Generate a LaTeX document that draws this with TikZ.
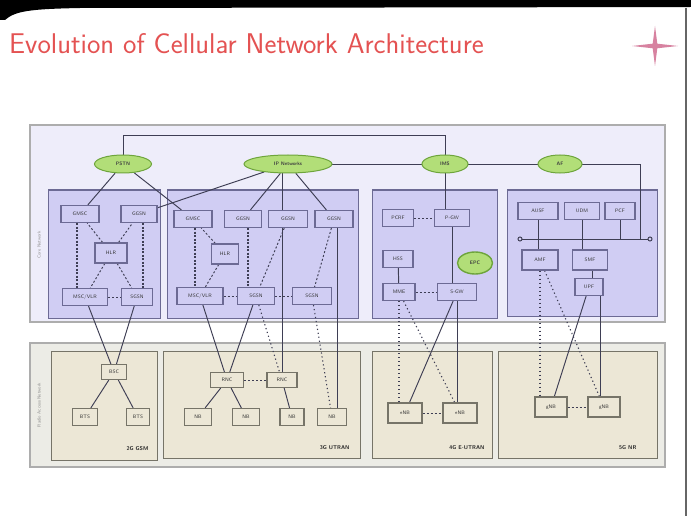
\documentclass[tikz,border=0pt]{standalone}
\usetikzlibrary{shapes.geometric}
\definecolor{corebg}{RGB}{238,237,250}
\definecolor{corefill}{RGB}{208,205,243}
\definecolor{coreline}{RGB}{108,106,148}
\definecolor{ranbg}{RGB}{236,236,230}
\definecolor{ranfill}{RGB}{236,231,214}
\definecolor{ranline}{RGB}{118,116,104}
\definecolor{ellfill}{RGB}{178,222,120}
\definecolor{ellline}{RGB}{110,165,60}
\definecolor{wirec}{RGB}{62,62,84}
\definecolor{titlered}{RGB}{228,82,82}
\definecolor{starpink}{RGB}{215,130,160}
\pgfdeclarelayer{back}
\pgfdeclarelayer{lines}
\pgfsetlayers{back,lines,main}
\tikzset{
  cbox/.style={draw=coreline, line width=1.2pt, fill=corefill, minimum height=17, inner sep=1pt, font=\fontsize{5}{5.5}\selectfont\sffamily, text=black!80},
  rbox/.style={draw=ranline, line width=1.2pt, fill=ranfill, minimum height=17, inner sep=1pt, font=\fontsize{5}{5.5}\selectfont\sffamily, text=black!80},
  ell/.style={ellipse, draw=ellline, line width=1pt, fill=ellfill, minimum height=18, inner sep=1pt, font=\fontsize{5}{5.5}\selectfont\sffamily\bfseries, text=black!75},
  wire/.style={draw=wirec, line width=0.95pt},
  dsh/.style={wire, dash pattern=on 2pt off 2pt},
  dotl/.style={wire, line width=1.1pt, dash pattern=on 1.2pt off 2.8pt},
  ladder/.style={wire, line width=1.5pt, dash pattern=on 2pt off 1.5pt},
  areabg/.style={draw=black!32, line width=1.6pt},
  corearea/.style={draw=coreline, line width=1pt, fill=corefill},
  ranarea/.style={draw=ranline, line width=1pt, fill=ranfill},
  lbl/.style={anchor=south east, font=\fontsize{5.5}{6}\selectfont\sffamily\bfseries, text=black!85},
  side/.style={rotate=90, font=\fontsize{4.5}{5}\selectfont\sffamily, text=black!45}
}
\begin{document}
\begin{tikzpicture}[x=1pt,y=-1pt]
\useasboundingbox (0,0) rectangle (691,516);
\begin{pgfonlayer}{back}
\fill[white] (0,0) rectangle (691,516);
\draw[areabg, fill=corebg] (30,125) rectangle (665,322);
\draw[areabg, fill=ranbg] (30,343) rectangle (665,467);
\draw[corearea] (48,190) rectangle (160,318);
\draw[corearea] (167,190) rectangle (358,318);
\draw[corearea] (372,190) rectangle (497,318);
\draw[corearea] (507,190) rectangle (657,316);
\draw[ranarea] (51,351) rectangle (157,460);
\draw[ranarea] (163,351) rectangle (360,458);
\draw[ranarea] (372,351) rectangle (492,458);
\draw[ranarea] (498,351) rectangle (657,458);
\end{pgfonlayer}
% photo frame
\fill[black] (0,0) -- (691,0) -- (691,7) -- (80,8) .. controls (30,9) and (15,11) .. (5,20) -- (0,20) -- cycle;
\draw[black!60, line width=2pt] (686,8) -- (686,516);
% title and logo
\node[anchor=west, inner sep=0pt, font=\sffamily\fontsize{28.5}{28.5}\selectfont, text=titlered] (title) at (9,44) {Evolution of Cellular Network Architecture};
\fill[starpink] (655,26) -- (657.3,43.7) -- (678,46) -- (657.3,48.3) -- (655,66) -- (652.7,48.3) -- (632,46) -- (652.7,43.7) -- cycle;

\node[side] (sidecore) at (39,245) {Core Network};
\node[side] (sideran) at (39,405) {Radio Access Network};

% external networks
\node[ell, minimum width=57] (pstn) at (123,164) {PSTN};
\node[ell, minimum width=88] (ip) at (288,164) {IP Networks};
\node[ell, minimum width=46] (ims) at (445,164) {IMS};
\node[ell, minimum width=44] (af) at (560,164) {AF};

% 2G core
\node[cbox, minimum width=38] (g2gmsc) at (80,214) {GMSC};
\node[cbox, minimum width=36] (g2ggsn) at (139,214) {GGSN};
\node[cbox, minimum width=32, minimum height=20] (g2hlr) at (111,253) {HLR};
\node[cbox, minimum width=45] (g2msc) at (85,297) {MSC/VLR};
\node[cbox, minimum width=31] (g2sgsn) at (137,297) {SGSN};
% 3G core
\node[cbox, minimum width=38] (g3gmsc) at (193,219) {GMSC};
\node[cbox, minimum width=37] (g3ggsn2) at (243,219) {GGSN};
\node[cbox, minimum width=39] (g3ggsn3) at (288,219) {GGSN};
\node[cbox, minimum width=38] (g3ggsn4) at (334,219) {GGSN};
\node[cbox, minimum width=27, minimum height=20] (g3hlr) at (225,254) {HLR};
\node[cbox, minimum width=46] (g3msc) at (200,296) {MSC/VLR};
\node[cbox, minimum width=37] (g3sgsn2) at (256,296) {SGSN};
\node[cbox, minimum width=39] (g3sgsn3) at (312,296) {SGSN};
% 4G core
\node[cbox, minimum width=31] (g4pcrf) at (398,218) {PCRF};
\node[cbox, minimum width=35] (g4pgw) at (452,218) {P-GW};
\node[cbox, minimum width=30] (g4hss) at (398,259) {HSS};
\node[cbox, minimum width=32] (g4mme) at (399,292) {MME};
\node[cbox, minimum width=39] (g4sgw) at (457,292) {S-GW};
\node[ell, minimum width=35, minimum height=22, line width=1.4pt] (epc) at (475,263) {EPC};
% 5G core
\node[cbox, minimum width=40] (g5ausf) at (538,211) {AUSF};
\node[cbox, minimum width=35] (g5udm) at (582,211) {UDM};
\node[cbox, minimum width=30] (g5pcf) at (620,211) {PCF};
\node[cbox, minimum width=36, minimum height=20] (g5amf) at (540,260) {AMF};
\node[cbox, minimum width=35, minimum height=20] (g5smf) at (590,260) {SMF};
\node[cbox, minimum width=28] (g5upf) at (589,287) {UPF};
\coordinate (busL) at (520,239);
\coordinate (busR) at (650,239);
\coordinate (toprow) at (0,135);
\coordinate (afdrop) at (640,239);

% RAN
\node[rbox, minimum width=25, minimum height=15] (g2bsc) at (114,372) {BSC};
\node[rbox, minimum width=25] (g2bts1) at (85,417) {BTS};
\node[rbox, minimum width=23] (g2bts2) at (138,417) {BTS};
\node[rbox, minimum width=33, minimum height=15] (g3rnc1) at (227,380) {RNC};
\node[rbox, minimum width=30, minimum height=15] (g3rnc2) at (282,380) {RNC};
\node[rbox, minimum width=27] (g3nb1) at (198,417) {NB};
\node[rbox, minimum width=27] (g3nb2) at (246,417) {NB};
\node[rbox, minimum width=24] (g3nb3) at (292,417) {NB};
\node[rbox, minimum width=29] (g3nb4) at (332,417) {NB};
\node[rbox, minimum width=34, minimum height=20] (g4enb1) at (405,413) {eNB};
\node[rbox, minimum width=34, minimum height=20] (g4enb2) at (460,413) {eNB};
\node[rbox, minimum width=32, minimum height=20] (g5gnb1) at (551,407) {gNB};
\node[rbox, minimum width=32, minimum height=20] (g5gnb2) at (604,407) {gNB};

\node[lbl] (l2g) at (152,454) {2G GSM};
\node[lbl] (l3g) at (353,453) {3G UTRAN};
\node[lbl] (l4g) at (488,453) {4G E-UTRAN};
\node[lbl] (l5g) at (640,453) {5G NR};

\begin{pgfonlayer}{lines}
% top-level links
\draw[wire] (pstn.center) -- (pstn.center |- toprow) -| (ims.center);
\draw[wire] (ip.center) -- (ims.center);
\draw[wire] (ims.center) -- (af.center);
\draw[wire] (af.center) -| (afdrop);
\draw[wire] (ims.center) -- (ims.center |- g4pgw.north);
\draw[wire] (pstn) -- (g2gmsc);
\draw[wire] (pstn) -- (g3gmsc);
\draw[wire] (ip) -- (g2ggsn);
\draw[wire] (ip) -- (g3ggsn2);
\draw[wire] (ip) -- (g3ggsn4);
\draw[wire] (ip.center -| g3rnc2.north) -- (g3rnc2.north);
\draw[wire] ([xshift=5]g3nb4.north) -- ([xshift=5]g3nb4.north |- g3ggsn4.center);
% 2G core
\draw[ladder] ([xshift=-3]g2gmsc.south) -- ([xshift=-3]g2gmsc.south |- g2msc.north);
\draw[ladder] ([xshift=4]g2ggsn.south) -- ([xshift=4]g2ggsn.south |- g2sgsn.north);
\draw[dsh] (g2hlr) -- (g2gmsc);
\draw[dsh] (g2hlr) -- (g2ggsn);
\draw[dsh] (g2hlr) -- (g2msc);
\draw[dsh] (g2hlr) -- (g2sgsn);
\draw[dsh] (g2msc) -- (g2sgsn);
% 3G core
\draw[ladder] ([xshift=2]g3gmsc.south) -- ([xshift=2]g3gmsc.south |- g3msc.north);
\draw[ladder] ([xshift=5]g3ggsn2.south) -- ([xshift=5]g3ggsn2.south |- g3sgsn2.north);
\draw[dsh] (g3hlr) -- (g3gmsc);
\draw[dsh] (g3hlr) -- (g3msc);
\draw[dsh] (g3ggsn3) -- (g3sgsn2);
\draw[dsh] (g3ggsn4) -- (g3sgsn3);
\draw[dsh] (g3msc) -- (g3sgsn2);
\draw[dsh] (g3sgsn2) -- (g3sgsn3);
% 4G core
\draw[dsh] (g4pcrf) -- (g4pgw);
\draw[wire] (g4pgw) -- (g4pgw |- g4sgw.north);
\draw[wire] (g4hss) -- (g4mme);
\draw[dsh] (g4mme) -- (g4sgw);
% 5G core
\draw[wire] (busL) -- (busR);
\draw[wire] (g5ausf) -- (g5ausf |- g5amf.north);
\draw[wire] (g5udm) -- (g5udm |- g5smf.north);
\draw[wire] (g5pcf) -- (g5pcf |- busR);
\draw[wire] ([xshift=2]g5smf.south) -- ([xshift=2]g5smf.south |- g5upf.north);
% 2G access
\draw[wire] (g2msc) -- (g2bsc);
\draw[wire] (g2sgsn) -- (g2bsc);
\draw[wire] (g2bsc) -- (g2bts1);
\draw[wire] (g2bsc) -- (g2bts2);
% 3G access
\draw[wire] (g3msc) -- (g3rnc1);
\draw[wire] (g3sgsn2) -- (g3rnc1);
\draw[dotl] (g3sgsn2) -- (g3rnc2);
\draw[dotl] (g3sgsn3) -- (g3nb4);
\draw[dsh] (g3rnc1) -- (g3rnc2);
\draw[wire] (g3rnc1) -- (g3nb1);
\draw[wire] (g3rnc1) -- (g3nb2);
\draw[wire] (g3rnc2) -- (g3nb3);
% 4G access
\draw[dotl] (g4mme.south) -- (g4mme.south |- g4enb1.north);
\draw[dotl] (g4mme) -- (g4enb2);
\draw[wire] (g4sgw) -- (g4enb1);
\draw[wire] (g4sgw.south) -- (g4sgw.south |- g4enb2.north);
\draw[dsh] (g4enb1) -- (g4enb2);
% 5G access
\draw[dotl] (g5amf.south) -- (g5amf.south |- g5gnb1.north);
\draw[dotl] (g5amf) -- (g5gnb2);
\draw[wire] (g5upf) -- (g5gnb1);
\draw[wire] ([xshift=11]g5upf.south) -- ([xshift=11]g5upf.south |- g5gnb2.north);
\draw[dsh] (g5gnb1) -- (g5gnb2);
\end{pgfonlayer}
\draw[wire, fill=corefill] (busL) circle (2);
\draw[wire, fill=corefill] (busR) circle (2);
\end{tikzpicture}
\end{document}
